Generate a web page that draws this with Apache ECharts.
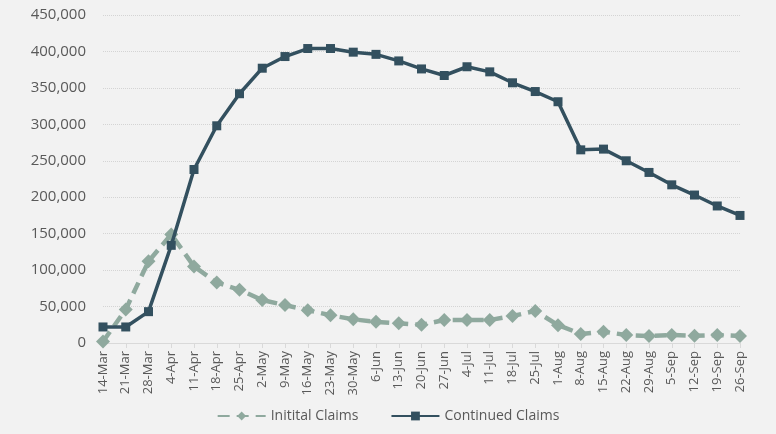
<!DOCTYPE html>
<html>
<head>
<meta charset="utf-8">
<script src="https://cdn.jsdelivr.net/npm/echarts@6/dist/echarts.min.js"></script>
<style>
  html, body { margin: 0; padding: 0; background: #f2f2f2; }
  #chart { width: 776px; height: 434px; }
</style>
</head>
<body>
<div id="chart"></div>
<script>
const weeks = ['14-Mar', '21-Mar', '28-Mar', '4-Apr', '11-Apr', '18-Apr', '25-Apr', '2-May', '9-May',
  '16-May', '23-May', '30-May', '6-Jun', '13-Jun', '20-Jun', '27-Jun', '4-Jul', '11-Jul', '18-Jul',
  '25-Jul', '1-Aug', '8-Aug', '15-Aug', '22-Aug', '29-Aug', '5-Sep', '12-Sep', '19-Sep', '26-Sep'];

const initialClaims = [2000, 46000, 112000, 149000, 105000, 83000, 73000, 59000, 52000,
  45000, 38000, 32500, 29000, 27000, 25000, 31500, 31500, 31500, 37000,
  44000, 24500, 12500, 15500, 11000, 9600, 11000, 10000, 11000, 9600];

const continuedClaims = [22000, 22000, 43000, 134000, 238000, 298000, 342000, 377000, 393000,
  404000, 404000, 399000, 396000, 387000, 376000, 367000, 379000, 372000, 357000,
  345000, 331000, 265000, 266000, 250000, 234000, 217000, 203000, 188000, 175000];

const textColor = '#595959';
const fontFamily = '"Open Sans", "Noto Sans", sans-serif';

const chart = echarts.init(document.getElementById('chart'), null, { renderer: 'canvas' });

chart.setOption({
  backgroundColor: '#f2f2f2',
  animation: false,
  grid: { left: 103, right: 36, top: 15, bottom: 91 },
  legend: {
    bottom: 6,
    left: 'center',
    itemWidth: 48,
    itemHeight: 11,
    itemGap: 32,
    textStyle: { color: textColor, fontSize: 14, fontFamily },
    data: ['Initital Claims', 'Continued Claims'],
  },
  xAxis: {
    type: 'category',
    data: weeks,
    boundaryGap: false,
    axisLine: { lineStyle: { color: '#d9d9d9' } },
    axisTick: { show: true, length: 5, lineStyle: { color: '#d9d9d9' } },
    axisLabel: { rotate: 90, color: textColor, fontSize: 13, fontFamily, margin: 8, interval: 0 },
  },
  yAxis: {
    type: 'value',
    min: 0,
    max: 450000,
    interval: 50000,
    axisLine: { show: false },
    axisTick: { show: false },
    axisLabel: {
      color: textColor,
      fontSize: 15,
      fontFamily,
      margin: 17,
      formatter: (v) => v.toLocaleString('en-US'),
    },
    splitLine: { lineStyle: { color: '#d4d4d4', type: 'dotted' } },
  },
  series: [
    {
      name: 'Initital Claims',
      type: 'line',
      data: initialClaims,
      symbol: 'diamond',
      symbolSize: 14,
      lineStyle: { color: '#8fa99e', width: 4.5, type: [12, 7] },
      itemStyle: { color: '#8fa99e' },
      z: 2,
    },
    {
      name: 'Continued Claims',
      type: 'line',
      data: continuedClaims,
      symbol: 'rect',
      symbolSize: 9,
      lineStyle: { color: '#33505f', width: 3.5 },
      itemStyle: { color: '#33505f' },
      z: 3,
    },
  ],
});
</script>
</body>
</html>
